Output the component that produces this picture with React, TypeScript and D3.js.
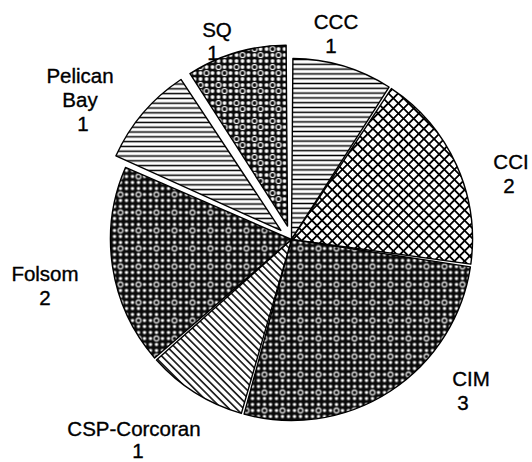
import React from "react";
import * as d3 from "d3";

// ---- data ----
const categories = ["CCC", "CCI", "CIM", "CSP-Corcoran", "Folsom", "Pelican Bay", "SQ"];
const values = [1, 2, 3, 1, 2, 1, 1];
const explodedFlags = [false, false, false, false, false, true, true];
const patternIds = ["hlines", "cross", "dotsA", "diag", "dotsA", "hlines", "dotsB"];

// ---- layout (label anchors: name baseline x/y, number x offset, line height) ----
const labelLayout = [
  { x: 336, y: 29, lines: ["CCC"], nx: -5, lh: 24 },
  { x: 511, y: 169, lines: ["CCI"], nx: -2, lh: 24 },
  { x: 471, y: 386, lines: ["CIM"], nx: -8, lh: 24 },
  { x: 134, y: 436, lines: ["CSP-Corcoran"], nx: 4, lh: 21.5 },
  { x: 45, y: 281, lines: ["Folsom"], nx: 0, lh: 24 },
  { x: 80, y: 83, lines: ["Pelican", "Bay"], nx: 3, lh: 24 },
  { x: 217, y: 37, lines: ["SQ"], nx: -4, lh: 23 },
];

const W = 532;
const H = 462;
const CX = 291.5;
const CY = 239.5;
const R = 181;
const EXPLODE = 14;

export default function App() {
  const pie = d3
    .pie<number>()
    .sort(null)
    .value((d) => d)
    .padAngle(2.8 / R);
  const arcs = pie(values);
  const arc = d3
    .arc<d3.PieArcDatum<number>>()
    .innerRadius(0)
    .outerRadius(R)
    .padRadius(R);

  const dotGrid: [number, number][] = [];
  for (let i = 0; i < 3; i++) for (let j = 0; j < 3; j++) dotGrid.push([i * 6 + 3, j * 6 + 3]);

  return (
    <svg
      width={W}
      height={H}
      style={{ position: "absolute", left: 0, top: 0, background: "#fff" }}
      fontFamily="'Liberation Sans', Arial, Helvetica, sans-serif"
    >
      <defs>
        <pattern id="hlines" patternUnits="userSpaceOnUse" width={10} height={4.8}>
          <rect width={10} height={4.8} fill="#fff" />
          <line x1={0} x2={10} y1={2.4} y2={2.4} stroke="#000" strokeWidth={1.5} />
        </pattern>
        <pattern
          id="diag"
          patternUnits="userSpaceOnUse"
          width={10}
          height={5.2}
          patternTransform="rotate(45)"
        >
          <rect width={10} height={5.2} fill="#fff" />
          <line x1={0} x2={10} y1={2.6} y2={2.6} stroke="#000" strokeWidth={1.5} />
        </pattern>
        <pattern
          id="cross"
          patternUnits="userSpaceOnUse"
          width={7.2}
          height={7.2}
          patternTransform="rotate(45)"
        >
          <rect width={7.2} height={7.2} fill="#fff" />
          <line x1={0} x2={7.2} y1={0.9} y2={0.9} stroke="#000" strokeWidth={1.8} />
          <line x1={0.9} x2={0.9} y1={0} y2={7.2} stroke="#000" strokeWidth={1.8} />
        </pattern>
        <pattern id="dotsA" patternUnits="userSpaceOnUse" width={18} height={18}>
          <rect width={18} height={18} fill="#0a0a0a" />
          {dotGrid.map(([x, y], i) =>
            i === 4 ? (
              <circle key={i} cx={x} cy={y} r={2.4} fill="none" stroke="#fff" strokeWidth={1.1} />
            ) : (
              <rect key={i} x={x - 1.5} y={y - 1.5} width={3} height={3} rx={0.8} fill="#fff" />
            )
          )}
        </pattern>
        <pattern id="dotsB" patternUnits="userSpaceOnUse" width={18} height={18}>
          <rect width={18} height={18} fill="#0a0a0a" />
          {dotGrid.map(([x, y], i) =>
            i === 4 || i === 0 ? (
              <circle key={i} cx={x} cy={y} r={2.5} fill="none" stroke="#fff" strokeWidth={1.2} />
            ) : (
              <rect key={i} x={x - 1.7} y={y - 1.7} width={3.4} height={3.4} rx={1} fill="#fff" />
            )
          )}
        </pattern>
      </defs>

      {/* labels (drawn beneath slices) */}
      <g fontSize={20.5} fill="#000" stroke="#000" strokeWidth={0.35}>
        {labelLayout.map((lab, i) => (
          <g key={categories[i]}>
            {lab.lines.map((ln, k) => (
              <text key={k} x={lab.x} y={lab.y + k * 24} textAnchor="middle">
                {ln}
              </text>
            ))}
            <text
              x={lab.x + lab.nx}
              y={lab.y + (lab.lines.length - 1) * 24 + lab.lh}
              textAnchor="middle"
            >
              {values[i]}
            </text>
          </g>
        ))}
      </g>

      <g transform={`translate(${CX},${CY})`}>
        {arcs.map((a, i) => {
          const mid = (a.startAngle + a.endAngle) / 2;
          const off = explodedFlags[i] ? EXPLODE : 0;
          const dx = Math.sin(mid) * off;
          const dy = -Math.cos(mid) * off;
          return (
            <path
              key={categories[i]}
              d={arc(a) || ""}
              transform={`translate(${dx},${dy})`}
              fill={`url(#${patternIds[i]})`}
              stroke="#000"
              strokeWidth={1.4}
              strokeLinejoin="round"
            />
          );
        })}
      </g>
    </svg>
  );
}
